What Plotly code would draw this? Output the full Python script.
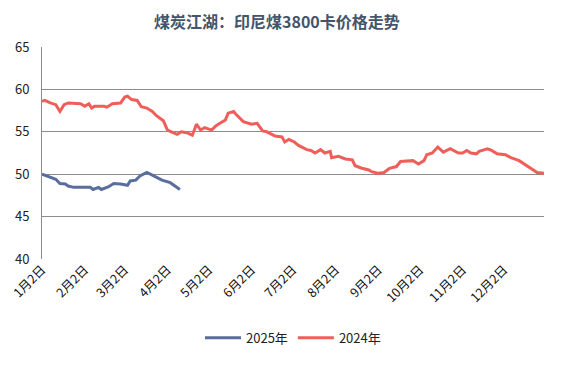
import plotly.graph_objects as go

# 2024 series (month-day, value)
dates_2024 = ["01-02", "01-04", "01-08", "01-12", "01-15", "01-18", "01-21", "01-30",
              "02-02", "02-05", "02-07", "02-09", "02-16", "02-18", "02-22", "02-28",
              "03-02", "03-04", "03-07", "03-11", "03-14", "03-18", "03-22", "03-25", "03-30",
              "04-02", "04-06", "04-09", "04-12", "04-16", "04-20", "04-23", "04-26", "04-29",
              "05-04", "05-07", "05-10", "05-14", "05-16", "05-20", "05-22", "05-27",
              "06-02", "06-06", "06-10", "06-13", "06-19", "06-24", "06-26", "06-29",
              "07-03", "07-06", "07-12", "07-15", "07-18", "07-22", "07-25", "07-29", "07-30",
              "08-04", "08-09", "08-14", "08-16", "08-21", "08-26", "08-28",
              "09-02", "09-06", "09-10", "09-15", "09-18", "09-23", "09-27",
              "10-01", "10-05", "10-07", "10-11", "10-15", "10-19", "10-24", "10-30",
              "11-02", "11-05", "11-08", "11-12", "11-14", "11-20", "11-23", "11-27",
              "12-03", "12-07", "12-13", "12-18", "12-21", "12-26", "12-31"]
values_2024 = [58.6, 58.7, 58.4, 58.2, 57.4, 58.2, 58.4, 58.3,
               58.0, 58.3, 57.8, 58.0, 58.0, 57.9, 58.3, 58.4,
               59.1, 59.2, 58.8, 58.7, 57.95, 57.8, 57.4, 56.9, 56.3,
               55.2, 54.9, 54.7, 55.0, 54.9, 54.6, 55.9, 55.2, 55.5,
               55.2, 55.7, 56.0, 56.4, 57.2, 57.4, 57.0, 56.2,
               55.9, 56.0, 55.1, 55.0, 54.5, 54.4, 53.8, 54.1,
               53.8, 53.4, 52.9, 52.8, 52.5, 52.9, 52.5, 52.7, 51.95,
               52.1, 51.8, 51.7, 51.0, 50.7, 50.5, 50.3,
               50.1, 50.2, 50.7, 50.9, 51.5, 51.6, 51.6,
               51.2, 51.6, 52.3, 52.5, 53.2, 52.6, 53.0, 52.5,
               52.5, 52.8, 52.5, 52.4, 52.7, 53.0, 52.8, 52.4,
               52.3, 51.95, 51.6, 51.1, 50.8, 50.2, 50.1]

# 2025 series (month-day, value)
dates_2025 = ["01-02", "01-08", "01-12", "01-15", "01-19", "01-21", "01-25",
              "02-06", "02-08", "02-12", "02-14", "02-19", "02-23", "02-28",
              "03-04", "03-06", "03-10", "03-13", "03-18", "03-22", "03-25", "03-29",
              "04-04", "04-08", "04-11"]
values_2025 = [50.0, 49.6, 49.4, 48.9, 48.85, 48.6, 48.45,
               48.45, 48.2, 48.45, 48.2, 48.5, 48.9, 48.85,
               48.7, 49.2, 49.3, 49.8, 50.2, 49.9, 49.6, 49.3,
               49.0, 48.6, 48.2]

tick_months = list(range(1, 13))
tick_text = [f"{m}月2日" for m in tick_months]
y_ticks = [40, 45, 50, 55, 60, 65]

BASE_YEAR = "2024"  # common axis year for overlaying both years
def on_axis(md):
    return [f"{BASE_YEAR}-{d}" for d in md]

FONT = "Noto Sans CJK SC, Microsoft YaHei, sans-serif"

fig = go.Figure()
fig.add_trace(go.Scatter(x=on_axis(dates_2025), y=values_2025, mode="lines",
                         name="2025年", line=dict(color="#5A6E9E", width=3)))
fig.add_trace(go.Scatter(x=on_axis(dates_2024), y=values_2024, mode="lines",
                         name="2024年", line=dict(color="#EF5F5A", width=3)))

fig.update_layout(
    width=565, height=370,
    margin=dict(l=34, r=29, t=39, b=119, autoexpand=False),
    paper_bgcolor="white", plot_bgcolor="white",
    font=dict(family=FONT, size=13, color="#222222"),
    title=dict(text="<b>煤炭江湖：印尼煤3800卡价格走势</b>", x=0.476, xanchor="center",
               y=0.962, yanchor="middle",
               font=dict(family=FONT, size=16, color="#44546A")),
    legend=dict(orientation="h", x=0.5, xanchor="center", y=-0.372, yanchor="middle",
                font=dict(size=13, color="#222222"), itemwidth=36),
    showlegend=True,
)
fig.update_xaxes(
    type="date", automargin=False,
    range=[f"{BASE_YEAR}-01-02", f"{BASE_YEAR}-12-31"],
    tickvals=[f"{BASE_YEAR}-{m:02d}-02" for m in tick_months],
    ticktext=tick_text,
    tickangle=-45, ticklabelstandoff=0,
    tickfont=dict(size=12.5, color="#111111"),
    showgrid=False, showline=False, zeroline=False, ticks="",
)
fig.update_yaxes(
    range=[40, 65], tickvals=y_ticks, automargin=False,
    showgrid=True, gridcolor="#8C8C8C", gridwidth=1,
    showline=True, linecolor="#8C8C8C", linewidth=1,
    zeroline=False, ticks="", ticklabelstandoff=9,
    tickfont=dict(size=13, color="#222222"),
)

fig.write_html("out.html")
